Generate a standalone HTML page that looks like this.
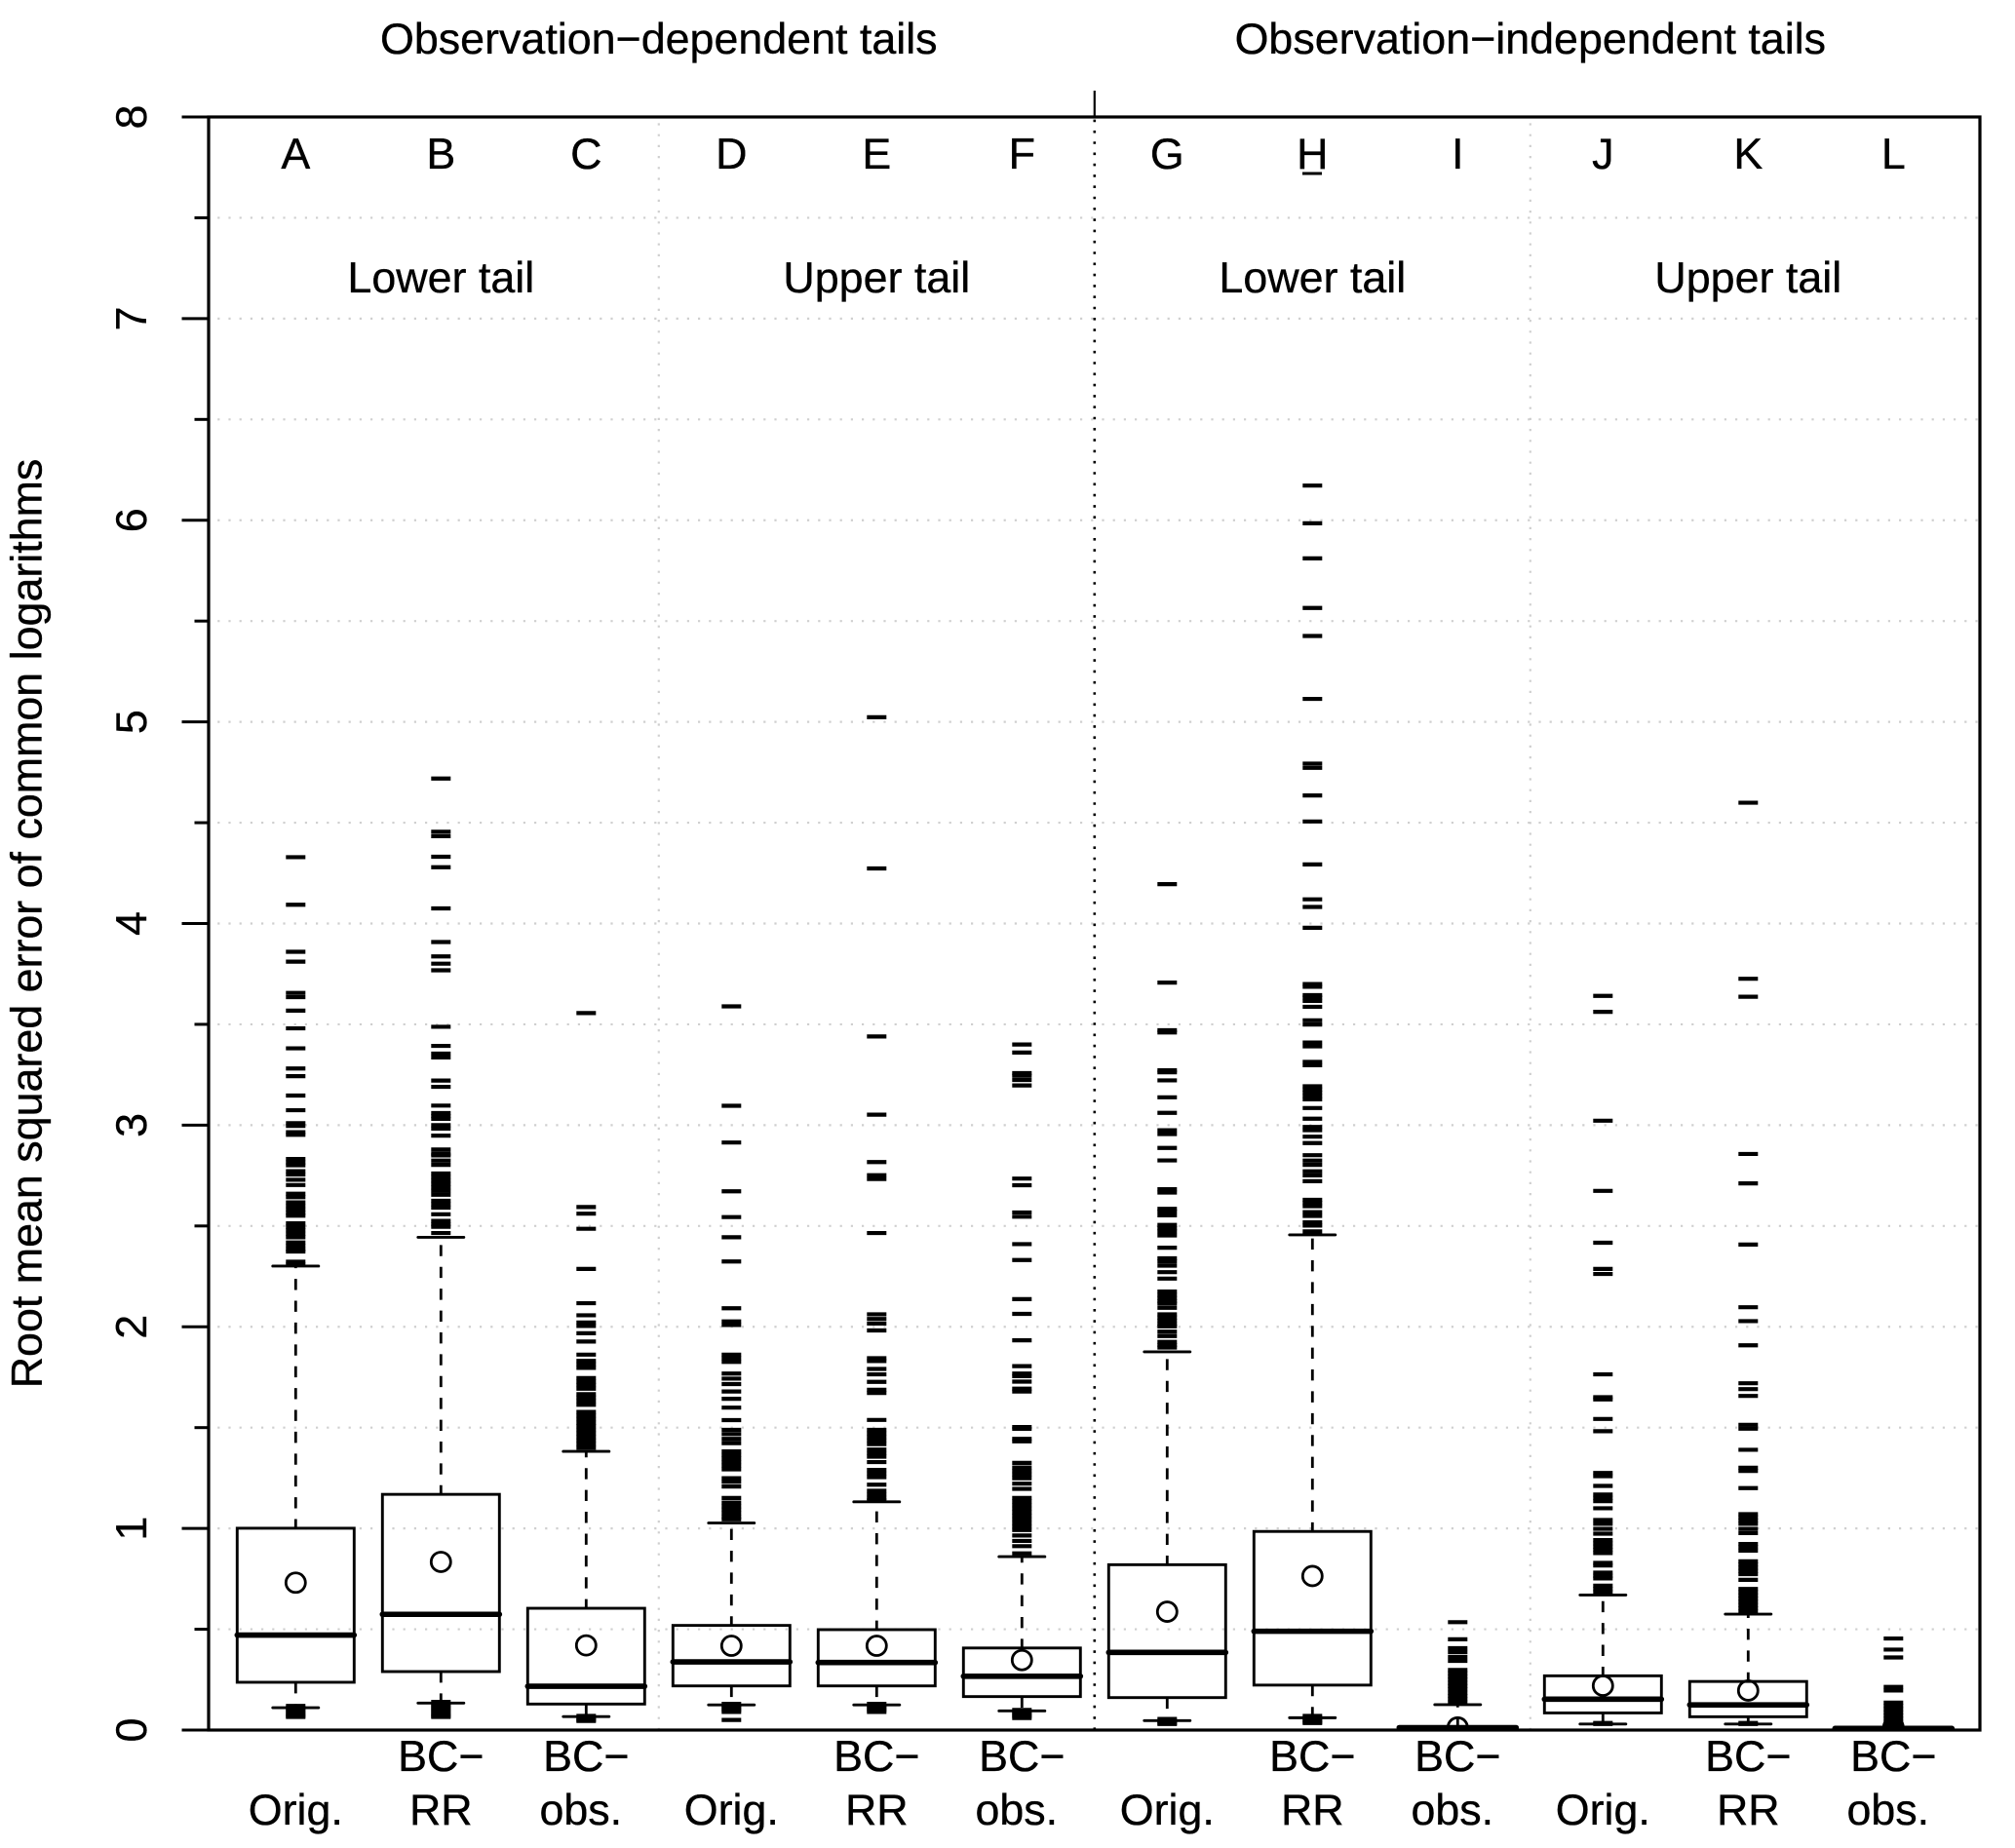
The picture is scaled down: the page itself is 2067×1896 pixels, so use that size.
<!DOCTYPE html>
<html lang="en">
<head>
<meta charset="utf-8">
<title>Root mean squared error boxplots</title>
<style>
html,body{margin:0;padding:0;background:#fff;}
svg{display:block;}
text{font-family:"Liberation Sans",Arial,sans-serif;font-size:44.8px;fill:#000;stroke:#000;stroke-width:0.35px;}
</style>
</head>
<body>
<svg id="chart" xmlns="http://www.w3.org/2000/svg" width="2067" height="1896" viewBox="0 0 2067 1896">
<defs><clipPath id="plot-clip"><rect x="214" y="120" width="1817" height="1655"/></clipPath></defs>
<rect x="0" y="0" width="2067" height="1896" fill="#fff"/>
<g id="grid"></g>
<g id="marks" clip-path="url(#plot-clip)"></g>
<g id="axes"></g>
<g id="labels"></g>
<text x="675.8" y="55" text-anchor="middle">Observation−dependent tails</text>
<text x="1569.8" y="55" text-anchor="middle">Observation−independent tails</text>
<text x="452.3" y="300" text-anchor="middle">Lower tail</text>
<text x="899.3" y="300" text-anchor="middle">Upper tail</text>
<text x="1346.3" y="300" text-anchor="middle">Lower tail</text>
<text x="1793.3" y="300" text-anchor="middle">Upper tail</text>
<text x="0" y="0" text-anchor="middle" transform="translate(42.7 947.5) rotate(-90)">Root mean squared error of common logarithms</text>
<rect x="1336" y="176.5" width="20" height="3" fill="#000"/>
</svg>
<script>
// ---- chart data ----
const categories = ["A","B","C","D","E","F","G","H","I","J","K","L"];
const labelRow1 = ["","BC−","BC−","","BC−","BC−","","BC−","BC−","","BC−","BC−"];
const labelRow2 = ["Orig.","RR","obs.","Orig.","RR","obs.","Orig.","RR","obs.","Orig.","RR","obs."];
const yTickLabels = ["0","1","2","3","4","5","6","7","8"];
const yMinorTicks = [0.5,1.5,2.5,3.5,4.5,5.5,6.5,7.5];
const hiddenGridValues = [0,8];

const upperWhisker = [2.301,2.444,1.382,1.027,1.132,0.860,1.876,2.456,0.126,0.670,0.575,0.012];
const q3 = [1.001,1.169,0.604,0.519,0.498,0.407,0.820,0.985,0.014,0.269,0.241,0.012];
const medians = [0.471,0.574,0.217,0.338,0.335,0.267,0.385,0.490,0.012,0.153,0.125,0.008];
const q1 = [0.237,0.290,0.129,0.219,0.219,0.166,0.161,0.223,0.006,0.085,0.066,0.004];
const lowerWhisker = [0.111,0.134,0.067,0.125,0.125,0.095,0.047,0.061,0.002,0.030,0.030,0.002];
const means = [0.731,0.834,0.420,0.418,0.418,0.347,0.587,0.764,0.013,0.220,0.196,0.015];

const outliersA = [4.329,4.093,3.860,3.811,3.656,3.635,3.568,3.480,3.381,3.281,3.243,3.147,3.074,3.010,2.996,2.965,2.952,2.832,2.815,2.801,2.772,2.755,2.729,2.703,2.660,2.643,2.617,2.599,2.582,2.565,2.551,2.513,2.496,2.479,2.461,2.444,2.418,2.401,2.384,2.373,2.323,2.309,0.12,0.11,0.10,0.09,0.08,0.07,0.065];
const outliersB = [4.719,4.455,4.433,4.331,4.279,4.075,3.908,3.837,3.801,3.768,3.488,3.393,3.355,3.336,3.221,3.190,3.097,3.060,3.045,3.031,3.000,2.983,2.948,2.879,2.858,2.850,2.824,2.803,2.760,2.743,2.725,2.708,2.691,2.674,2.655,2.625,2.608,2.591,2.558,2.525,2.508,2.496,2.465,0.14,0.13,0.12,0.11,0.10,0.09,0.08,0.07,0.065];
const outliersC = [3.556,2.594,2.561,2.486,2.287,2.117,2.057,2.021,2.004,1.968,1.927,1.862,1.831,1.814,1.796,1.746,1.728,1.711,1.693,1.666,1.649,1.631,1.613,1.578,1.560,1.542,1.524,1.507,1.489,1.471,1.453,1.436,1.418,1.400,0.07,0.06,0.05,0.045];
const outliersD = [3.589,3.096,2.914,2.672,2.544,2.444,2.324,2.092,2.027,2.009,1.862,1.844,1.826,1.768,1.743,1.716,1.679,1.643,1.599,1.537,1.489,1.468,1.444,1.423,1.382,1.364,1.347,1.329,1.311,1.293,1.249,1.231,1.208,1.151,1.128,1.110,1.093,1.075,1.057,1.045,0.13,0.12,0.11,0.10,0.09,0.05];
const outliersE = [5.023,4.273,3.440,3.052,2.817,2.752,2.733,2.465,2.062,2.039,2.016,1.982,1.844,1.830,1.791,1.764,1.727,1.688,1.672,1.538,1.489,1.471,1.453,1.436,1.418,1.391,1.373,1.356,1.329,1.290,1.272,1.254,1.217,1.187,1.169,1.151,1.139,0.13,0.12,0.11,0.10,0.09];
const outliersF = [3.400,3.360,3.258,3.245,3.224,3.197,2.735,2.702,2.567,2.546,2.410,2.331,2.137,2.064,1.933,1.805,1.768,1.755,1.728,1.693,1.679,1.503,1.494,1.444,1.432,1.325,1.302,1.285,1.267,1.249,1.222,1.196,1.151,1.134,1.116,1.098,1.080,1.063,1.045,1.027,1.009,0.992,0.965,0.938,0.912,0.876,0.10,0.09,0.08,0.07,0.06];
const outliersG = [4.195,3.707,3.471,3.460,3.272,3.262,3.222,3.138,3.061,2.975,2.956,2.887,2.825,2.682,2.666,2.585,2.572,2.553,2.505,2.489,2.473,2.453,2.392,2.340,2.324,2.303,2.271,2.239,2.175,2.158,2.142,2.126,2.115,2.094,2.062,2.046,2.030,2.013,2.002,1.976,1.954,1.925,1.909,1.897,0.055,0.045,0.035,0.03];
const outliersH = [6.172,5.985,5.811,5.565,5.426,5.114,4.793,4.772,4.635,4.506,4.293,4.120,4.082,3.979,3.700,3.686,3.645,3.633,3.616,3.587,3.520,3.499,3.410,3.391,3.314,3.297,3.193,3.177,3.161,3.144,3.128,3.085,3.032,2.991,2.975,2.943,2.911,2.851,2.824,2.803,2.771,2.751,2.722,2.630,2.614,2.598,2.569,2.550,2.518,2.502,2.473,0.07,0.06,0.05,0.04,0.035];
const outliersI = [0.535,0.450,0.406,0.387,0.363,0.343,0.298,0.282,0.266,0.250,0.234,0.218,0.202,0.185,0.169,0.153,0.137];
const outliersJ = [3.641,3.562,3.022,2.674,2.417,2.287,2.262,1.764,1.651,1.640,1.543,1.482,1.275,1.259,1.211,1.168,1.151,1.135,1.100,1.042,1.023,0.998,0.974,0.942,0.926,0.910,0.894,0.878,0.829,0.816,0.781,0.765,0.752,0.716,0.700,0.684,0.035,0.03];
const outliersK = [4.599,3.726,3.637,2.857,2.711,2.408,2.097,2.028,1.908,1.720,1.691,1.657,1.514,1.495,1.390,1.301,1.285,1.200,1.071,1.055,1.039,1.023,0.998,0.977,0.923,0.907,0.890,0.837,0.821,0.805,0.789,0.773,0.745,0.700,0.684,0.668,0.652,0.636,0.620,0.604,0.588,0.035,0.03];
const outliersL = [0.454,0.399,0.360,0.214,0.196,0.136,0.120,0.104,0.088,0.072,0.056,0.040,0.024];
const allOutliers = [outliersA,outliersB,outliersC,outliersD,outliersE,outliersF,outliersG,outliersH,outliersI,outliersJ,outliersK,outliersL];

// ---- axis functions ----
const plotLeft = 214, plotRight = 2031, plotTop = 120, plotBottom = 1775;
function xPos(position){ return 154.3 + 149 * position; }
function yPos(value){ return plotBottom - value * (plotBottom - plotTop) / 8; }

const NS = "http://www.w3.org/2000/svg";
function makeLine(parent, x1, y1, x2, y2, width, color){
  const l = document.createElementNS(NS, "line");
  l.setAttribute("x1", x1); l.setAttribute("y1", y1);
  l.setAttribute("x2", x2); l.setAttribute("y2", y2);
  l.setAttribute("stroke", color || "#000");
  l.setAttribute("stroke-width", width);
  parent.appendChild(l);
  return l;
}
function makeText(parent, content, x, y){
  const t = document.createElementNS(NS, "text");
  t.setAttribute("x", x); t.setAttribute("y", y);
  t.setAttribute("text-anchor", "middle");
  t.textContent = content;
  parent.appendChild(t);
  return t;
}

const gridG = document.getElementById("grid");
const marksG = document.getElementById("marks");
const axesG = document.getElementById("axes");
const labelsG = document.getElementById("labels");

// horizontal grid lines
[...yTickLabels.map(Number), ...yMinorTicks].forEach(function(v){
  if (hiddenGridValues.includes(v)) return;
  const g = makeLine(gridG, plotLeft - 2, yPos(v), plotRight, yPos(v), 2.2, "#cfcfcf");
  g.setAttribute("stroke-dasharray", "2.2 9");
  
  
});
// vertical separators
[3.5, 9.5].forEach(function(p){
  const g = makeLine(gridG, xPos(p), plotBottom, xPos(p), plotTop, 2.2, "#cfcfcf");
  g.setAttribute("stroke-dasharray", "2.2 9");
  
  
});
const midDots = makeLine(gridG, xPos(6.5), plotBottom, xPos(6.5), plotTop, 2.6, "#000");
midDots.setAttribute("stroke-dasharray", "2.6 8.7");



// boxes
categories.forEach(function(cat, i){
  const pos = i + 1, cx = xPos(pos);
  const group = document.createElementNS(NS, "g");
  
  
  marksG.appendChild(group);

  allOutliers[i].forEach(function(v){
    const o = makeLine(group, cx - 10, yPos(v), cx + 10, yPos(v), 4.2);
    
    
  });

  const up = makeLine(group, cx, yPos(q3[i]), cx, yPos(upperWhisker[i]), 2.8);
  up.setAttribute("stroke-dasharray", "11.4 11");
  up.setAttribute("stroke-dashoffset", "2");
  
  

  const low = makeLine(group, cx, yPos(q1[i]), cx, yPos(lowerWhisker[i]), 2.8);
  low.setAttribute("stroke-dasharray", "11.4 11");
  
  

  const capU = makeLine(group, cx - 23.5, yPos(upperWhisker[i]), cx + 23.5, yPos(upperWhisker[i]), 2.9);
  capU.setAttribute("stroke-linecap", "round");
  
  

  const capL = makeLine(group, cx - 23.5, yPos(lowerWhisker[i]), cx + 23.5, yPos(lowerWhisker[i]), 2.9);
  capL.setAttribute("stroke-linecap", "round");
  
  

  const r = document.createElementNS(NS, "rect");
  r.setAttribute("x", cx - 60);
  r.setAttribute("y", yPos(q3[i]));
  r.setAttribute("width", 120);
  r.setAttribute("height", yPos(q1[i]) - yPos(q3[i]));
  r.setAttribute("fill", "none");
  r.setAttribute("stroke", "#000");
  r.setAttribute("stroke-width", 2.9);
  
  
  group.appendChild(r);

  const m = makeLine(group, cx - 60, yPos(medians[i]), cx + 60, yPos(medians[i]), 5.6);
  m.setAttribute("stroke-linecap", "round");
  
  

  const c = document.createElementNS(NS, "circle");
  c.setAttribute("cx", cx);
  c.setAttribute("cy", yPos(means[i]));
  c.setAttribute("r", 10);
  c.setAttribute("fill", "none");
  c.setAttribute("stroke", "#000");
  c.setAttribute("stroke-width", 2.8);
  
  
  group.appendChild(c);

  const letter = makeText(labelsG, cat, cx, 173);
  
  

  if (labelRow1[i]) {
    const l1 = makeText(labelsG, labelRow1[i], cx, 1817);
    
    
  }
  const shift = labelRow2[i] === "obs." ? -5.5 : 0;
  const l2 = makeText(labelsG, labelRow2[i], cx + shift, 1872);
  
  
});

// frame and axis
const frame = document.createElementNS(NS, "rect");
frame.setAttribute("x", plotLeft);
frame.setAttribute("y", plotTop);
frame.setAttribute("width", plotRight - plotLeft);
frame.setAttribute("height", plotBottom - plotTop);
frame.setAttribute("fill", "none");
frame.setAttribute("stroke", "#000");
frame.setAttribute("stroke-width", 3.2);


axesG.appendChild(frame);

const topTick = makeLine(axesG, xPos(6.5), plotTop, xPos(6.5), 93, 2.2);



yTickLabels.forEach(function(lab){
  const v = Number(lab);
  const t = makeLine(axesG, 186.5, yPos(v), plotLeft, yPos(v), 3);
  
  
  const tx = makeText(labelsG, lab, 0, 0);
  tx.setAttribute("transform", "translate(150 " + yPos(v) + ") rotate(-90)");
  
  
});
yMinorTicks.forEach(function(v){
  const t = makeLine(axesG, 199.5, yPos(v), plotLeft, yPos(v), 3);
  
  
});
</script>
</body>
</html>
